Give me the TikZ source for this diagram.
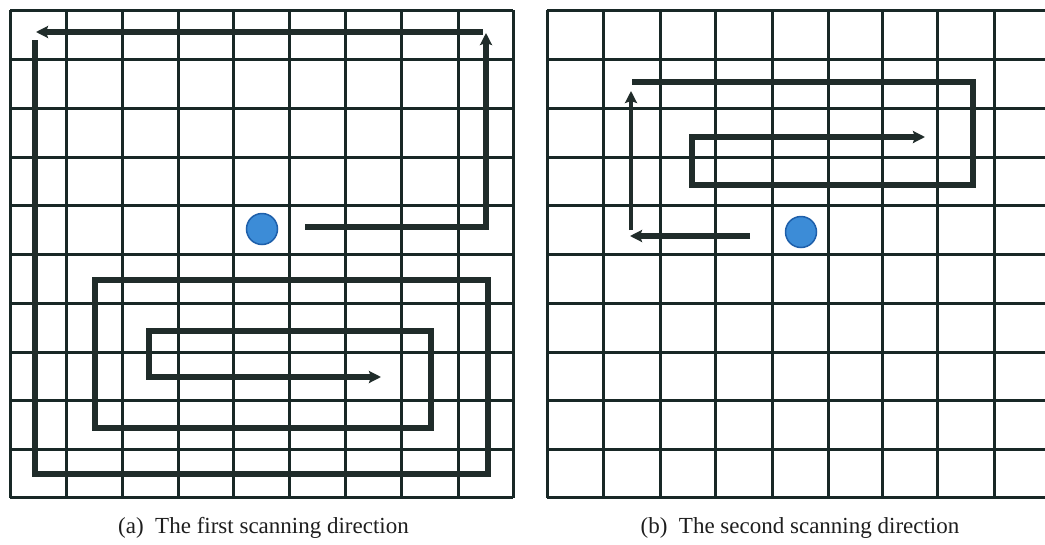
\documentclass[tikz,border=0pt]{standalone}
\usepackage{fontspec}
\setmainfont{Liberation Serif}
\usetikzlibrary{arrows.meta}
\definecolor{gridc}{RGB}{24,40,38}
\definecolor{pathc}{RGB}{32,44,42}
\definecolor{dotfill}{RGB}{60,140,215}
\definecolor{dotline}{RGB}{30,95,170}
\definecolor{capc}{RGB}{30,30,30}
\tikzset{
  gridline/.style={draw=gridc, line width=3pt},
  scanpath/.style={draw=pathc, line width=5.2pt, line join=miter},
  scanarrow/.style={scanpath, -{Stealth[length=12pt,width=12pt,inset=2pt]}},
  blueDot/.style={circle, minimum size=31pt, inner sep=0pt, fill=dotfill, draw=dotline, line width=1.5pt},
  caption/.style={font=\fontsize{23}{26}\selectfont, text=capc, anchor=base, inner sep=0pt}
}
\begin{document}
\begin{tikzpicture}[x=1pt,y=-1pt]
\useasboundingbox (0,0) rectangle (1045,544);
\fill[white] (0,0) rectangle (1045,544);
% left grid
\foreach \x in {10,66,122,178,233.5,289,345,401.5,458,513}
  \draw[gridline] (\x,10) -- (\x,497.5);
\foreach \y in {10,59,108,157,205,254,303,352,400,449,497.5}
  \draw[gridline] (10,\y) -- (513,\y);
% right grid
\foreach \x in {547,603,660,715,772,828,882,937,994}
  \draw[gridline] (\x,10) -- (\x,497.5);
\foreach \y in {10,59,108,157,205,254,303,352,400,449,497.5}
  \draw[gridline] (547,\y) -- (1045,\y);
% dots
\node[blueDot] (dA) at (262,229) {};
\node[blueDot] (dB) at (801,232) {};
% left paths
\coordinate (a0) at (305,227);
\coordinate (a1) at (486,227);
\coordinate (a2) at (486,33);
\coordinate (a3) at (483,32);
\coordinate (a4) at (36,32);
\coordinate (a5) at (35,40);
\coordinate (a6) at (35,474);
\coordinate (a7) at (488,474);
\coordinate (a8) at (488,280);
\coordinate (a9) at (95,280);
\coordinate (a10) at (95,428);
\coordinate (a11) at (431,428);
\coordinate (a12) at (431,331);
\coordinate (a13) at (149,331);
\coordinate (a14) at (149,377);
\coordinate (a15) at (381,377);
\draw[scanarrow] (a0) -- (a1) -- (a2);
\draw[scanarrow] (a3) -- (a4);
\draw[scanarrow] (a5) -- (a6) -- (a7) -- (a8) -- (a9) -- (a10) -- (a11) -- (a12) -- (a13) -- (a14) -- (a15);
% right paths
\coordinate (b0) at (750,236);
\coordinate (b1) at (630,236);
\coordinate (b2) at (631,230);
\coordinate (b3) at (631,91);
\coordinate (b4) at (632,82);
\coordinate (b5) at (973,82);
\coordinate (b6) at (973,185);
\coordinate (b7) at (692,185);
\coordinate (b8) at (692,137);
\coordinate (b9) at (925,137);
\draw[scanarrow] (b0) -- (b1);
\draw[scanarrow, line width=4pt] (b2) -- (b3);
\draw[scanarrow] (b4) -- (b5) -- (b6) -- (b7) -- (b8) -- (b9);
% captions
\node[caption] (capA) at (263.5,533) {(a)\ \ The first scanning direction};
\node[caption] (capB) at (800,533) {(b)\ \ The second scanning direction};
\end{tikzpicture}
\end{document}
